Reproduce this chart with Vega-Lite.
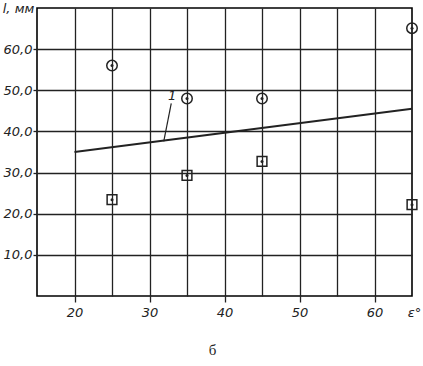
{
  "$schema": "https://vega.github.io/schema/vega-lite/v6.json",
  "width": 375,
  "height": 288,
  "autosize": {"type": "none"},
  "padding": {"left": 37, "top": 8, "right": 11, "bottom": 70},
  "background": "white",
  "config": {
    "view": {"stroke": "black", "strokeWidth": 1.6},
    "axis": {
      "labelFont": "DejaVu Sans",
      "labelFontStyle": "italic",
      "labelFontSize": 13,
      "labelColor": "#222",
      "titleFont": "DejaVu Sans",
      "titleFontStyle": "italic",
      "titleFontWeight": "normal",
      "titleFontSize": 13,
      "titleColor": "#222",
      "gridColor": "#222",
      "gridWidth": 1.3,
      "gridOpacity": 1,
      "tickColor": "#222",
      "tickWidth": 1.3,
      "domain": false
    }
  },
  "title": {
    "text": "б",
    "orient": "bottom",
    "anchor": "middle",
    "font": "Liberation Serif",
    "fontSize": 15,
    "fontWeight": "normal",
    "color": "#222",
    "offset": 24,
    "dx": -12
  },
  "datasets": {
    "points": [
      {"e": 25, "l": 56.0, "kind": "circle"},
      {"e": 35, "l": 48.0, "kind": "circle"},
      {"e": 45, "l": 48.0, "kind": "circle"},
      {"e": 65, "l": 65.1, "kind": "circle"},
      {"e": 25, "l": 23.4, "kind": "square"},
      {"e": 35, "l": 29.3, "kind": "square"},
      {"e": 45, "l": 32.7, "kind": "square"},
      {"e": 65, "l": 22.2, "kind": "square"}
    ],
    "line": [
      {"e": 20, "l": 35.0},
      {"e": 65, "l": 45.5}
    ],
    "note": [
      {"e": 32.9, "l": 46.8, "e2": 31.9, "l2": 37.6, "label": "1"}
    ]
  },
  "encoding": {
    "x": {
      "field": "e",
      "type": "quantitative",
      "scale": {"domain": [15, 65], "nice": false, "zero": false},
      "axis": {
        "values": [20, 25, 30, 35, 40, 45, 50, 55, 60],
        "grid": true,
        "labelExpr": "datum.value % 10 == 0 ? datum.label : ''",
        "tickOpacity": {"expr": "datum.value % 10 == 0 ? 1 : 0"},
        "tickSize": 6,
        "labelPadding": 4,
        "title": "ε°",
        "titleX": 377,
        "titleY": 10,
        "titleBaseline": "top",
        "titleAlign": "center"
      }
    },
    "y": {
      "field": "l",
      "type": "quantitative",
      "scale": {"domain": [0, 70], "nice": false, "zero": false},
      "axis": {
        "values": [10, 20, 30, 40, 50, 60],
        "grid": true,
        "labelExpr": "replace(format(datum.value, '.1f'), '.', ',')",
        "tickSize": 4,
        "labelPadding": 1,
        "title": "l, мм",
        "titleAngle": 0,
        "titleX": -19,
        "titleY": 0,
        "titleAlign": "center",
        "titleBaseline": "middle"
      }
    }
  },
  "layer": [
    {
      "data": {"name": "line"},
      "mark": {"type": "line", "color": "#222", "strokeWidth": 2}
    },
    {
      "data": {"name": "note"},
      "mark": {"type": "rule", "color": "#222", "strokeWidth": 1.2},
      "encoding": {
        "x2": {"field": "e2"},
        "y2": {"field": "l2"}
      }
    },
    {
      "data": {"name": "note"},
      "mark": {"type": "text", "font": "DejaVu Sans", "fontStyle": "italic", "fontSize": 13, "color": "#222", "dy": -7, "dx": 1},
      "encoding": {"text": {"field": "label"}}
    },
    {
      "data": {"name": "points"},
      "mark": {"type": "point", "filled": false, "color": "#222", "strokeWidth": 1.5, "opacity": 1},
      "encoding": {
        "shape": {"field": "kind", "type": "nominal", "scale": {"domain": ["circle", "square"], "range": ["circle", "square"]}, "legend": null},
        "size": {"field": "kind", "type": "nominal", "scale": {"domain": ["circle", "square"], "range": [110, 95]}, "legend": null}
      }
    },
    {
      "data": {"name": "points"},
      "mark": {"type": "point", "shape": "circle", "filled": true, "color": "#222", "size": 9, "opacity": 1}
    }
  ]
}
